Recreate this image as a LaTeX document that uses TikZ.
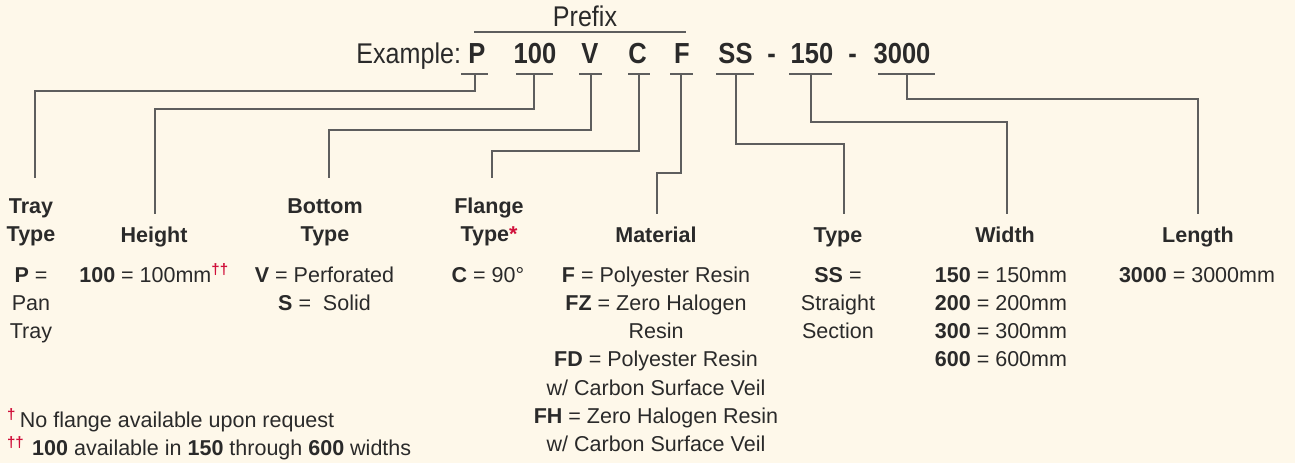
\documentclass[tikz,border=0pt]{standalone}
\usepackage{fontspec}
\setmainfont{Liberation Sans}
\newfontfamily\topfont{Liberation Sans}[FakeStretch=0.88]
\usepackage{xcolor}
\definecolor{bg}{HTML}{FEF8EA}
\definecolor{ink}{HTML}{2A2A2A}
\definecolor{lin}{HTML}{5E5E5E}
\definecolor{accent}{HTML}{D0103A}
\begin{document}
\begin{tikzpicture}[x=1pt,y=-1pt,
  every node/.style={inner sep=0pt, outer sep=0pt, text=ink},
  big/.style={font=\topfont\fontsize{28.5}{32}\selectfont, anchor=base},
  code/.style={font=\topfont\fontsize{29}{32}\selectfont\bfseries, anchor=base},
  hdr/.style={font=\fontsize{21.5}{28.6}\selectfont\bfseries, align=center, anchor=north},
  val/.style={font=\fontsize{21.5}{28.3}\selectfont, align=center, anchor=north},
  foot/.style={font=\fontsize{21.5}{28.3}\selectfont, anchor=base west},
  conn/.style={draw=lin, line width=1.1pt},
  uline/.style={draw=lin, line width=1.2pt},
]
\useasboundingbox (0,0) rectangle (1295,463);
\fill[bg] (0,0) rectangle (1295,463);

% prefix
\node[big] (pfx) at (585,27) {Prefix};
\coordinate (pfxL) at (474,32);
\coordinate (pfxR) at (686,32);
\draw[uline] (pfxL) -- (pfxR);

% example line
\node[big, anchor=base east] (ex) at (461,63) {Example:};
\node[code] (cP) at (477,63) {P};
\node[code] (c100) at (535,63) {100};
\node[code] (cV) at (590,63) {V};
\node[code] (cC) at (637.5,63) {C};
\node[code] (cF) at (682,63) {F};
\node[code] (cSS) at (735.5,63) {SS};
\node[code] (d1) at (771.5,63) {-};
\node[code] (c150) at (812,63) {150};
\node[code] (d2) at (852.5,63) {-};
\node[code] (c3000) at (902,63) {3000};

% underline centres
\coordinate (uP) at (475,74);
\coordinate (u100) at (534,74);
\coordinate (uV) at (591,74);
\coordinate (uC) at (639,74);
\coordinate (uF) at (681,74);
\coordinate (uSS) at (736,74);
\coordinate (u150) at (811,74);
\coordinate (u3000) at (907,74);
\draw[uline] ([xshift=-14pt]uP) -- ([xshift=13pt]uP);
\draw[uline] ([xshift=-18pt]u100) -- ([xshift=19pt]u100);
\draw[uline] ([xshift=-12pt]uV) -- ([xshift=11pt]uV);
\draw[uline] ([xshift=-11pt]uC) -- ([xshift=11pt]uC);
\draw[uline] ([xshift=-11pt]uF) -- ([xshift=12pt]uF);
\draw[uline] ([xshift=-20pt]uSS) -- ([xshift=18pt]uSS);
\draw[uline] ([xshift=-22pt]u150) -- ([xshift=21pt]u150);
\draw[uline] ([xshift=-29pt]u3000) -- ([xshift=28pt]u3000);

% headers
\node[hdr] (hTray) at (31,192.98) {\strut Tray\\Type};
\node[hdr] (hHeight) at (154,221.98) {\strut Height};
\node[hdr] (hBottom) at (325,192.98) {\strut Bottom\\Type};
\node[hdr] (hFlange) at (489,192.98) {\strut Flange\\Type{\color{accent}*}};
\node[hdr] (hMat) at (656,221.98) {\strut Material};
\node[hdr] (hType) at (838,221.98) {\strut Type};
\node[hdr] (hWidth) at (1005,221.98) {\strut Width};
\node[hdr] (hLength) at (1198,221.98) {\strut Length};

% values
\node[val] (vTray) at (31,262.19) {\strut\textbf{P} =\\Pan\\Tray};
\node[val] (vHeight) at (154,262.19) {\strut\textbf{100} = 100mm\textsuperscript{\color{accent}\textbf{††}}};
\node[val] (vBottom) at (324.5,262.19) {\strut\textbf{V} = Perforated\\\textbf{S} =\ \ Solid};
\node[val] (vFlange) at (488,262.19) {\strut\textbf{C} = 90°};
\node[val] (vMat) at (656,262.19) {\strut\textbf{F} = Polyester Resin\\\textbf{FZ} = Zero Halogen\\Resin\\\textbf{FD} = Polyester Resin\\w/ Carbon Surface Veil\\\textbf{FH} = Zero Halogen Resin\\w/ Carbon Surface Veil};
\node[val] (vType) at (838,262.19) {\strut\textbf{SS} =\\Straight\\Section};
\node[val] (vWidth) at (1001,262.19) {\strut\textbf{150} = 150mm\\\textbf{200} = 200mm\\\textbf{300} = 300mm\\\textbf{600} = 600mm};
\node[val] (vLength) at (1197,262.19) {\strut\textbf{3000} = 3000mm};

% connectors
\draw[conn, shorten >=15pt] (uP) -- ++(0,17) -| ([xshift=4pt]hTray.north);
\draw[conn, shorten >=8pt] (u100) -- ++(0,35) -| ([xshift=1pt]hHeight.north);
\draw[conn, shorten >=15pt] (uV) -- ++(0,56) -| ([xshift=4pt]hBottom.north);
\draw[conn, shorten >=15pt] (uC) -- ++(0,77) -| ([xshift=3pt]hFlange.north);
\draw[conn, shorten >=8pt] (uF) -- ++(0,99) -| ([xshift=1pt]hMat.north);
\draw[conn, shorten >=8pt] (uSS) -- ++(0,70) -| ([xshift=6pt]hType.north);
\draw[conn, shorten >=8pt] (u150) -- ++(0,48) -| ([xshift=2pt]hWidth.north);
\draw[conn, shorten >=8pt] (u3000) -- ++(0,25) -| (hLength.north);

% footnotes
\node[foot] (fn1) at (7,427) {{\color{accent}\textsuperscript{\textbf{†}}}\hspace{4pt}No flange available upon request};
\node[foot] (fn2) at (7,455) {{\color{accent}\textsuperscript{\textbf{††}}}\hspace{8pt}\textbf{100} available in \textbf{150} through \textbf{600} widths};
\end{tikzpicture}
\end{document}
